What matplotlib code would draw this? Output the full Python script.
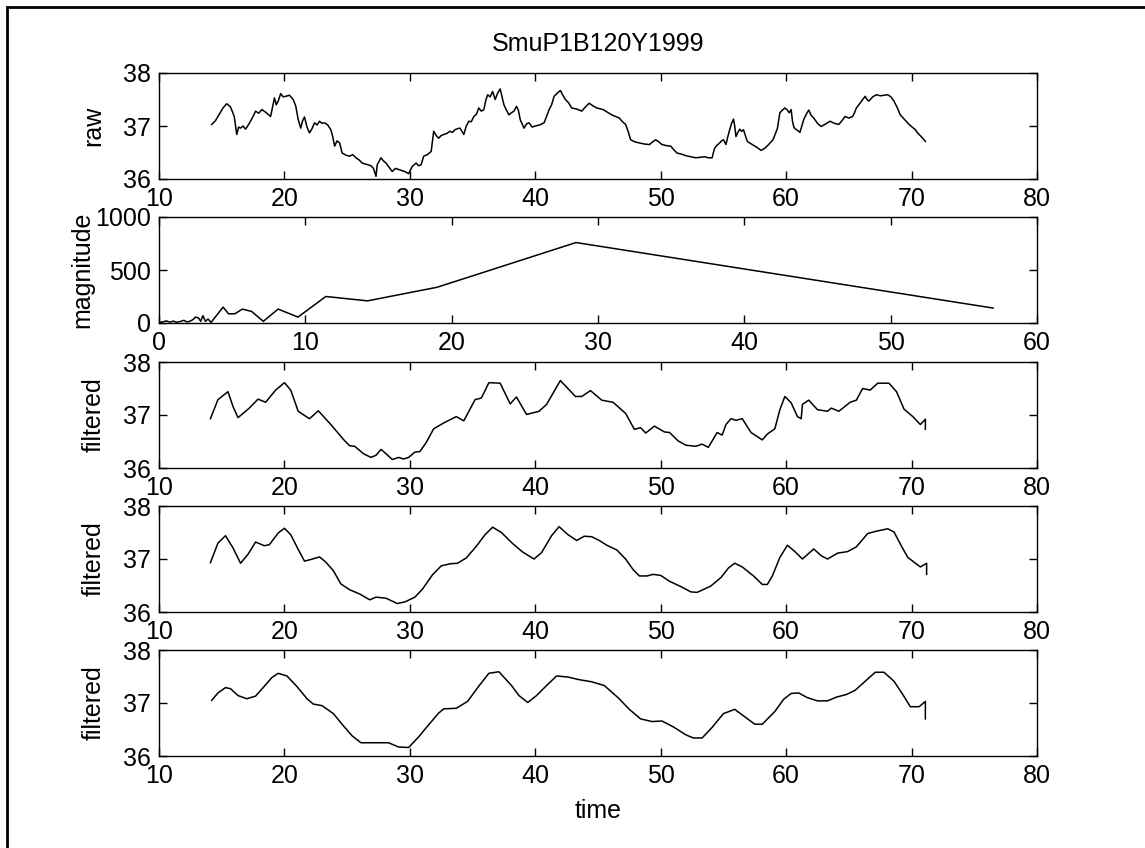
import matplotlib
matplotlib.use("Agg")
import matplotlib.pyplot as plt
from matplotlib.patches import Rectangle

plt.rcParams['font.family'] = ['Liberation Sans', 'DejaVu Sans']

# ---- data ----
raw_t = [14.2, 14.5, 14.8, 15.1, 15.4, 15.7, 16.0, 16.2, 16.35, 16.5, 16.7, 16.9, 17.2, 17.5, 17.7, 17.95, 18.2,
         18.5, 18.9, 19.05, 19.2, 19.35, 19.5, 19.7, 19.9, 20.1, 20.4, 20.7, 20.9, 21.1, 21.3, 21.45, 21.6, 21.8,
         22.0, 22.2, 22.4, 22.6, 22.8, 23.0, 23.2, 23.45, 23.7, 23.85, 24.0, 24.2, 24.4, 24.6, 24.9, 25.2, 25.45,
         25.7, 25.95, 26.2, 26.5, 26.9, 27.1, 27.3, 27.4, 27.7, 27.9, 28.1, 28.35, 28.6, 28.85, 29.1, 29.35,
         29.6, 29.9, 30.2, 30.5, 30.7, 30.9, 31.1, 31.4, 31.7, 31.9, 32.1, 32.3, 32.5, 32.7, 32.95, 33.2, 33.4,
         33.6, 33.8, 34.0, 34.3, 34.5, 34.7, 34.9, 35.1, 35.3, 35.5, 35.7, 35.9, 36.05, 36.2, 36.4, 36.6, 36.8,
         37.0, 37.2, 37.35, 37.5, 37.7, 37.9, 38.1, 38.3, 38.5, 38.65, 38.8, 39.1, 39.3, 39.5, 39.75, 40.0, 40.35,
         40.7, 40.9, 41.1, 41.3, 41.5, 41.75, 42.0, 42.2, 42.4, 42.65, 42.9, 43.3, 43.7, 44.0, 44.3, 44.6, 44.9,
         45.4, 45.75, 46.1, 46.4, 46.7, 46.95, 47.2, 47.4, 47.6, 47.95, 48.3, 48.7, 49.1, 49.35, 49.6, 49.85,
         50.1, 50.45, 50.8, 51.05, 51.3, 51.65, 52.0, 52.4, 52.8, 53.15, 53.5, 53.8, 54.1, 54.2, 54.3, 54.5,
         54.7, 54.85, 55.0, 55.1, 55.2, 55.35, 55.5, 55.65, 55.8, 55.9, 56.0, 56.15, 56.3, 56.45, 56.6, 56.75,
         56.9, 57.1, 57.3, 57.65, 58.0, 58.3, 58.6, 58.95, 59.3, 59.5, 59.7, 59.9, 60.1, 60.25, 60.4, 60.5,
         60.6, 60.7, 60.9, 61.1, 61.25, 61.4, 61.6, 61.8, 62.0, 62.2, 62.5, 62.8, 63.15, 63.5, 63.85, 64.2,
         64.45, 64.7, 65.0, 65.3, 65.45, 65.6, 65.95, 66.3, 66.45, 66.6, 66.9, 67.2, 67.5, 67.8, 68.1, 68.35,
         68.6, 68.85, 69.1, 69.45, 69.8, 70.05, 70.3, 70.45, 70.6, 70.85, 71.1]
raw_v = [37.03, 37.10, 37.22, 37.34, 37.42, 37.36, 37.18, 36.84, 36.98, 36.96, 37.0, 36.94, 37.05, 37.18, 37.28,
         37.24, 37.31, 37.26, 37.18, 37.35, 37.53, 37.40, 37.47, 37.61, 37.55, 37.56, 37.58, 37.50, 37.38, 37.12,
         36.96, 37.10, 37.17, 36.98, 36.87, 36.95, 37.06, 37.02, 37.09, 37.05, 37.06, 37.02, 36.93, 36.80, 36.62,
         36.72, 36.68, 36.49, 36.45, 36.43, 36.46, 36.40, 36.36, 36.30, 36.28, 36.25, 36.20, 36.05, 36.27, 36.40,
         36.34, 36.30, 36.22, 36.14, 36.20, 36.18, 36.16, 36.14, 36.10, 36.24, 36.30, 36.25, 36.27, 36.43, 36.46,
         36.52, 36.90, 36.82, 36.77, 36.82, 36.84, 36.86, 36.90, 36.88, 36.93, 36.95, 36.96, 36.84, 37.0, 37.09,
         37.08, 37.18, 37.22, 37.34, 37.28, 37.31, 37.48, 37.59, 37.55, 37.65, 37.50, 37.62, 37.70, 37.55, 37.40,
         37.30, 37.21, 37.25, 37.28, 37.37, 37.30, 37.12, 36.96, 37.04, 37.06, 36.98, 37.0, 37.02, 37.06, 37.18,
         37.31, 37.40, 37.56, 37.62, 37.67, 37.58, 37.50, 37.44, 37.34, 37.32, 37.28, 37.36, 37.43, 37.38, 37.34,
         37.31, 37.26, 37.21, 37.18, 37.15, 37.08, 37.03, 36.90, 36.74, 36.70, 36.68, 36.66, 36.65, 36.70, 36.74,
         36.70, 36.65, 36.63, 36.62, 36.55, 36.49, 36.47, 36.44, 36.42, 36.40, 36.41, 36.42, 36.40, 36.40, 36.50,
         36.58, 36.64, 36.68, 36.72, 36.74, 36.70, 36.65, 36.80, 36.93, 37.05, 37.13, 37.0, 36.80, 36.88, 36.94,
         36.90, 36.93, 36.82, 36.71, 36.68, 36.65, 36.60, 36.54, 36.58, 36.65, 36.74, 36.95, 37.25, 37.30, 37.34,
         37.30, 37.25, 37.31, 37.10, 36.99, 36.95, 36.92, 36.88, 37.0, 37.12, 37.22, 37.30, 37.20, 37.15, 37.05,
         36.99, 37.04, 37.09, 37.05, 37.03, 37.10, 37.18, 37.15, 37.18, 37.25, 37.34, 37.45, 37.56, 37.50, 37.47,
         37.55, 37.59, 37.57, 37.58, 37.59, 37.55, 37.47, 37.35, 37.21, 37.12, 37.03, 36.98, 36.93, 36.88, 36.84,
         36.78, 36.71]

mag_period = [0.0, 0.3, 0.5, 0.75, 1.0, 1.2, 1.45, 1.7, 1.9, 2.1, 2.3, 2.5, 2.7, 2.85, 3.0, 3.17, 3.35, 3.56,
              4.38, 4.75, 5.18, 5.7, 6.33, 7.13, 8.14, 9.5, 11.4, 14.25, 19.0, 28.5, 57.0]
mag_value = [5, 12, 20, 8, 18, 6, 14, 25, 10, 16, 30, 56, 47, 16, 69, 16, 37, 6,
             150, 87, 87, 131, 109, 16, 131, 56, 250, 209, 337, 759, 141]

filt1_t = [14.1, 14.7, 15.5, 15.9, 16.3, 17.2, 17.9, 18.5, 19.3, 20.0, 20.5, 21.1, 22.0, 22.7, 23.7, 24.7,
           25.2, 25.6, 26.3, 26.9, 27.3, 27.7, 28.0, 28.6, 29.1, 29.5, 29.9, 30.4, 30.8, 31.3, 31.9, 32.7,
           33.7, 34.3, 35.2, 35.7, 36.3, 37.2, 38.0, 38.5, 39.3, 40.3, 40.9, 42.0, 43.2, 43.7, 44.4, 45.3,
           46.2, 47.2, 47.9, 48.4, 48.8, 49.5, 50.3, 50.7, 51.4, 52.0, 52.8, 53.3, 53.8, 54.5, 54.9, 55.2,
           55.6, 56.0, 56.5, 57.2, 58.1, 58.5, 59.1, 59.5, 59.9, 60.4, 60.9, 61.2, 61.3, 61.8, 62.5, 63.3,
           63.6, 64.2, 65.1, 65.6, 66.1, 66.7, 67.3, 68.2, 68.8, 69.4, 70.1, 70.7, 71.1, 71.1]
filt1_v = [36.93, 37.29, 37.44, 37.16, 36.95, 37.13, 37.30, 37.24, 37.47, 37.61, 37.47, 37.07, 36.93, 37.08,
           36.82, 36.54, 36.42, 36.41, 36.27, 36.20, 36.24, 36.35, 36.29, 36.16, 36.20, 36.17, 36.20, 36.30,
           36.31, 36.48, 36.74, 36.85, 36.97, 36.89, 37.29, 37.32, 37.61, 37.60, 37.21, 37.34, 37.01, 37.07,
           37.20, 37.65, 37.35, 37.35, 37.46, 37.28, 37.24, 37.03, 36.73, 36.76, 36.66, 36.79, 36.68, 36.67,
           36.51, 36.43, 36.41, 36.45, 36.39, 36.67, 36.62, 36.82, 36.93, 36.90, 36.93, 36.67, 36.53, 36.64,
           36.74, 37.10, 37.35, 37.23, 36.97, 36.93, 37.20, 37.28, 37.10, 37.07, 37.13, 37.07, 37.24, 37.28,
           37.50, 37.47, 37.60, 37.60, 37.44, 37.11, 36.97, 36.82, 36.92, 36.73]

filt2_t = [14.1, 14.7, 15.3, 15.9, 16.5, 17.1, 17.7, 18.4, 18.8, 19.5, 20.0, 20.5, 21.1, 21.6, 22.1, 22.8,
           23.3, 23.9, 24.5, 25.2, 26.0, 26.8, 27.3, 28.1, 29.0, 29.6, 30.4, 31.0, 31.8, 32.5, 33.2, 33.8,
           34.5, 35.3, 36.0, 36.6, 37.3, 38.2, 39.0, 39.9, 40.5, 41.3, 41.9, 42.6, 43.3, 43.9, 44.5, 45.1,
           45.7, 46.5, 47.2, 47.8, 48.3, 48.9, 49.4, 50.0, 50.7, 51.6, 52.4, 52.9, 54.0, 54.8, 55.4, 55.9,
           56.5, 57.4, 58.1, 58.5, 58.9, 59.5, 60.1, 60.7, 61.3, 62.2, 62.8, 63.3, 64.1, 64.9, 65.6, 66.5,
           67.1, 68.1, 68.6, 69.2, 69.7, 70.7, 71.2, 71.2]
filt2_v = [36.93, 37.30, 37.44, 37.21, 36.92, 37.09, 37.32, 37.25, 37.27, 37.49, 37.58, 37.46, 37.18, 36.96,
           36.99, 37.04, 36.94, 36.78, 36.53, 36.42, 36.34, 36.23, 36.28, 36.26, 36.16, 36.19, 36.28, 36.43,
           36.70, 36.87, 36.91, 36.92, 37.02, 37.24, 37.46, 37.60, 37.50, 37.29, 37.13, 37.00, 37.12, 37.44,
           37.61, 37.46, 37.35, 37.43, 37.42, 37.35, 37.26, 37.17, 37.00, 36.80, 36.68, 36.68, 36.71, 36.69,
           36.58, 36.48, 36.38, 36.37, 36.49, 36.65, 36.83, 36.92, 36.85, 36.68, 36.52, 36.52, 36.68, 37.03,
           37.26, 37.14, 37.00, 37.19, 37.06, 37.00, 37.11, 37.14, 37.23, 37.48, 37.52, 37.57, 37.51, 37.24,
           37.03, 36.85, 36.92, 36.71]

filt3_t = [14.2, 14.7, 15.3, 15.7, 16.3, 17.0, 17.7, 18.3, 19.0, 19.5, 20.2, 21.0, 21.8, 22.3, 23.0, 23.9,
           24.7, 25.4, 26.1, 27.3, 28.3, 29.1, 29.9, 30.7, 31.5, 32.3, 32.7, 33.7, 34.6, 35.5, 36.3, 37.1,
           38.1, 38.7, 39.4, 40.1, 40.9, 41.7, 42.6, 43.5, 44.5, 45.5, 46.6, 47.5, 48.4, 49.3, 50.1, 51.0,
           52.0, 52.6, 53.3, 54.1, 55.0, 55.9, 56.7, 57.5, 58.1, 59.1, 59.8, 60.4, 61.0, 61.7, 62.5, 63.3,
           64.0, 64.8, 65.5, 66.3, 67.1, 67.8, 68.6, 69.3, 69.9, 70.6, 71.1, 71.1]
filt3_v = [37.05, 37.19, 37.29, 37.27, 37.14, 37.08, 37.13, 37.29, 37.48, 37.56, 37.51, 37.31, 37.08, 36.98,
           36.95, 36.80, 36.57, 36.38, 36.25, 36.25, 36.25, 36.17, 36.16, 36.36, 36.59, 36.81, 36.89, 36.90,
           37.03, 37.32, 37.56, 37.59, 37.33, 37.14, 37.01, 37.14, 37.33, 37.51, 37.49, 37.44, 37.40, 37.33,
           37.10, 36.88, 36.70, 36.65, 36.66, 36.55, 36.40, 36.34, 36.34, 36.54, 36.80, 36.88, 36.74, 36.60,
           36.60, 36.84, 37.07, 37.18, 37.19, 37.10, 37.04, 37.04, 37.11, 37.16, 37.24, 37.41, 37.58, 37.58,
           37.41, 37.16, 36.93, 36.93, 37.03, 36.70]

# (x, y, ylabel, xlim, ylim, yticks, ylabel x in axes coords)
panels = [
    (raw_t, raw_v, 'raw', (10, 80), (36, 38), [36, 37, 38], -0.061),
    (mag_period, mag_value, 'magnitude', (0, 60), (0, 1000), [0, 500, 1000], -0.074),
    (filt1_t, filt1_v, 'filtered', (10, 80), (36, 38), [36, 37, 38], -0.061),
    (filt2_t, filt2_v, 'filtered', (10, 80), (36, 38), [36, 37, 38], -0.061),
    (filt3_t, filt3_v, 'filtered', (10, 80), (36, 38), [36, 37, 38], -0.061),
]

W, H = 1145, 848
fig = plt.figure(figsize=(W / 100, H / 100), dpi=100)

left, right = 159, 1037
tops = [73, 217, 362, 506, 650]
h = 106

axes = []
for top, (x, y, lab, xl, yl, yt, lx) in zip(tops, panels):
    ax = fig.add_axes([left / W, 1 - (top + h) / H, (right - left) / W, h / H])
    ax.plot(x, y, color='black', lw=1.1)
    ax.set_xlim(*xl)
    ax.set_ylim(*yl)
    ax.set_yticks(yt)
    ax.set_xticks(range(xl[0], xl[1] + 1, 10))
    ax.tick_params(direction='in', length=6, width=1, top=True, right=True,
                   labelsize=18, pad=6)
    for s in ax.spines.values():
        s.set_linewidth(1)
    ax.set_ylabel(lab, fontsize=18)
    ax.yaxis.set_label_coords(lx, 0.5)
    axes.append(ax)

axes[-1].set_xlabel('time', fontsize=18, labelpad=8)

fig.text(598 / W, 1 - 44 / H, 'SmuP1B120Y1999', ha='center', va='center', fontsize=18)

# outer frame: only top and left edges fall inside the picture
fig.add_artist(Rectangle((7 / W, -20 / H), 1200 / W, (848 - 7 + 20) / H,
                         transform=fig.transFigure, fill=False, lw=2, ec='black'))

fig.savefig('out.png', dpi=100, facecolor='white')
